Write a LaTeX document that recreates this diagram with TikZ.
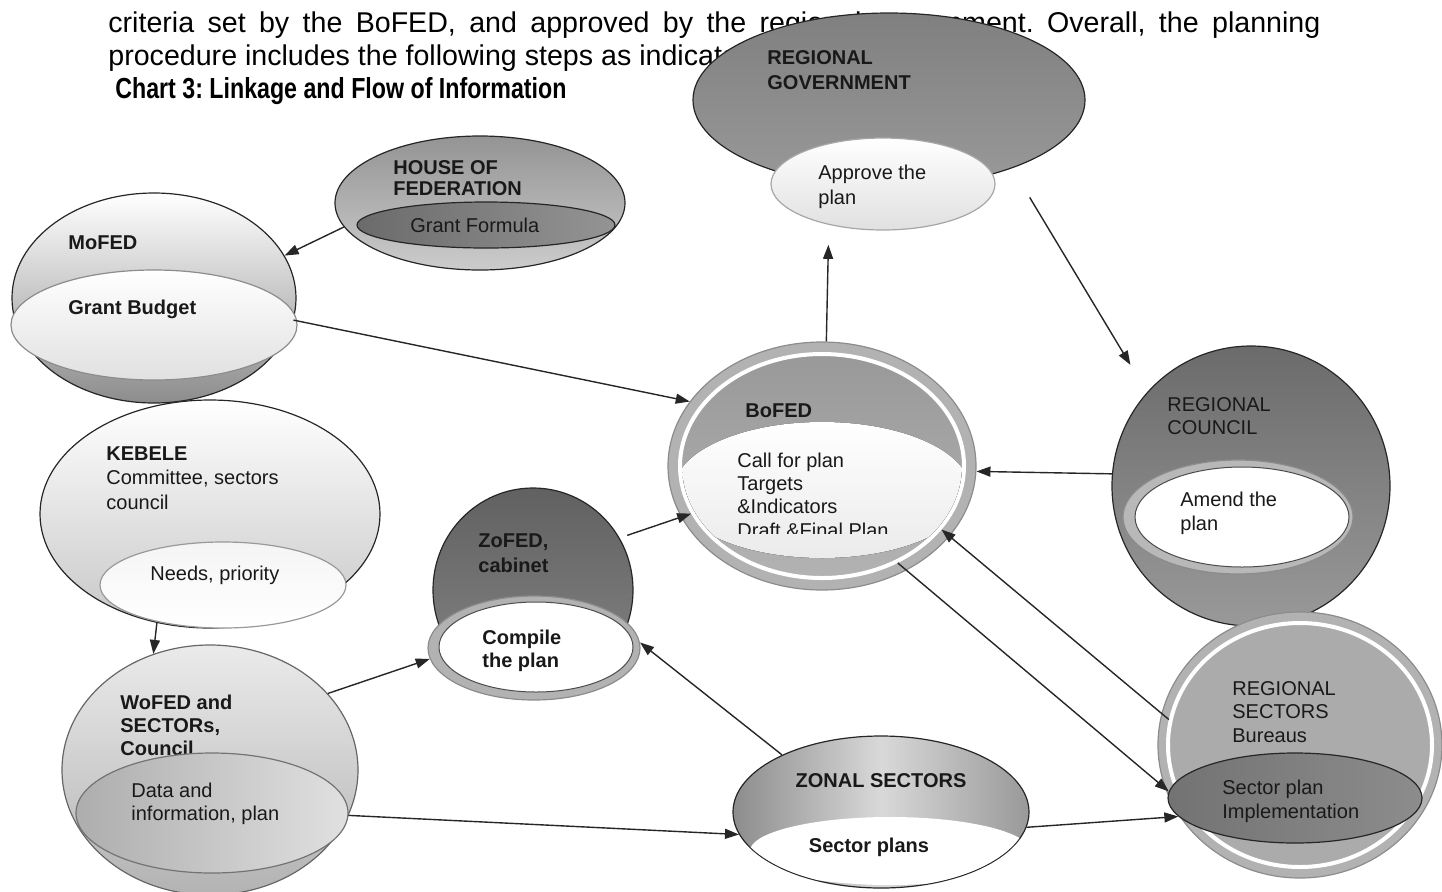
\documentclass[tikz,border=0pt]{standalone}
\usepackage{fontspec}
\setmainfont{Liberation Sans}
\newfontfamily\narrowfont{Liberation Sans}[FakeStretch=0.8]
\usepackage{tikz}
\usetikzlibrary{arrows.meta, positioning, shapes.geometric}
\frenchspacing

\begin{document}
\begin{tikzpicture}[
    x=0.5pt, y=-0.5pt,
    blob/.style={ellipse, inner sep=0pt, draw=black!85, line width=0.6pt},
    core/.style={ellipse, inner sep=0pt, draw=white, line width=2pt},
    txt/.style={inner sep=0pt, anchor=base west, align=left, text=black!90, font=\fontsize{10}{12}\selectfont},
    arrow/.style={line width=0.7pt, -{Triangle[length=7pt, width=5pt]}, draw=black!85}
]
    \useasboundingbox (0,0) rectangle (1442,891);

    % text above the chart
    \node[anchor=base west, inner sep=0pt, text width=606pt, align=justify, font=\fontsize{14.3}{16.5}\selectfont] (intro) at (108,32)
        {criteria set by the BoFED, and approved by the regional government. Overall, the planning\linebreak procedure includes the following steps as indicated below:};
    \node[anchor=base west, inner sep=0pt, font=\narrowfont\bfseries\fontsize{14.5}{16}\selectfont] (title) at (115,98) {Chart 3: Linkage and Flow of Information};

    % house of federation
    \node[blob, minimum width=145pt, minimum height=67pt, top color=black!42, bottom color=black!20] (hof) at (480,203) {};
    \node[txt, font=\bfseries\fontsize{10}{10.5}\selectfont] (hoftxt) at (393,195) {HOUSE OF\\FEDERATION};
    \node[blob, minimum width=129pt, minimum height=23pt, left color=black!58, right color=black!42] (hofin) at (486,225) {};
    \node[txt] (hofintxt) at (410,232) {Grant Formula};

    % mofed
    \node[blob, minimum width=142pt, minimum height=105pt, top color=white, middle color=white, bottom color=black!45] (mofed) at (154,298) {};
    \node[blob, draw=black!45, minimum width=143pt, minimum height=55pt, top color=white, bottom color=black!12] (mofedin) at (154,325) {};
    \node[txt, font=\bfseries\fontsize{10}{12}\selectfont] (mofedtxt) at (68,249) {MoFED};
    \node[txt, font=\bfseries\fontsize{10}{12}\selectfont] (mofedintxt) at (68,314) {Grant Budget};

    % kebele
    \node[blob, minimum width=170pt, minimum height=114pt, top color=white, bottom color=black!22] (kebele) at (210,514) {};
    \node[blob, draw=black!40, minimum width=123pt, minimum height=43pt, top color=black!4, bottom color=white] (kebelein) at (223,585) {};
    \node[txt, font=\fontsize{10}{12.25}\selectfont] (kebeletxt) at (106,509) {\textbf{KEBELE}\\Committee, sectors\\council};
    \node[txt] (kebeleintxt) at (150,580) {Needs, priority};

    % wofed
    \node[blob, draw=black!60, minimum width=148pt, minimum height=125pt, top color=black!8, bottom color=black!30] (wofed) at (210,770) {};
    \node[txt, font=\bfseries\fontsize{10}{11.5}\selectfont] (wofedtxt) at (120,755) {WoFED and\\SECTORs,\\Council};
    \node[blob, draw=black!55, minimum width=136pt, minimum height=60pt, left color=black!32, right color=black!12] (wofedin) at (212,813) {};
    \node[txt, font=\fontsize{10}{11.5}\selectfont] (wofedintxt) at (131,820) {Data and\\information, plan};

    % zofed
    \node[blob, minimum width=100pt, minimum height=102pt, top color=black!62, bottom color=black!48] (zofed) at (533,590) {};
    \node[txt, font=\bfseries\fontsize{10}{12.5}\selectfont] (zofedtxt) at (478,572) {ZoFED,\\cabinet};
    \node[blob, draw=black!45, fill=black!30, minimum width=106pt, minimum height=52pt] (zofedin) at (534,648) {};
    \node[blob, draw=black!70, line width=0.5pt, fill=white, minimum width=97pt, minimum height=45pt] (zofedcore) at (536,647) {};
    \node[txt, font=\bfseries\fontsize{10}{11.5}\selectfont] (zofedintxt) at (482,667) {Compile\\the plan};

    % bofed
    \node[blob, draw=black!45, fill=black!30, minimum width=154pt, minimum height=124pt] (bofed) at (822,466) {};
    \node[core, top color=black!40, bottom color=black!30, minimum width=142pt, minimum height=112pt] (bofedcore) at (822,466) {};
    \begin{scope}
        \clip (822,466) ellipse [x radius=70pt, y radius=55pt];
        \fill[top color=white, bottom color=black!8] (822,490) ellipse [x radius=74pt, y radius=34pt];
    \end{scope}
    \node[txt, font=\bfseries\fontsize{10}{12}\selectfont] (bofedtxt) at (745,417) {BoFED};
    \begin{scope}
        \clip (700,440) rectangle (960,533);
        \node[txt, font=\fontsize{10}{11.65}\selectfont] (bofedlist) at (737,537) {Call for plan\\Targets\\\&Indicators\\Draft \&Final Plan};
    \end{scope}

    % regional government
    \node[blob, top color=black!50, bottom color=black!40, minimum width=196pt, minimum height=87pt] (reggov) at (889,100) {};
    \node[txt, font=\bfseries\fontsize{10}{12.5}\selectfont] (reggovtxt) at (767,89) {REGIONAL\\GOVERNMENT};
    \node[blob, draw=black!35, top color=white, bottom color=black!12, minimum width=112pt, minimum height=46pt] (reggovin) at (883,184) {};
    \node[txt, font=\fontsize{10}{12.5}\selectfont] (reggovintxt) at (818,204) {Approve the\\plan};

    % regional council
    \node[blob, top color=black!58, bottom color=black!40, minimum width=139pt, minimum height=140pt] (council) at (1251,486) {};
    \node[txt, font=\fontsize{10}{11.5}\selectfont] (counciltxt) at (1167,434) {REGIONAL\\COUNCIL};
    \node[blob, draw=black!45, fill=black!28, minimum width=115pt, minimum height=57pt] (councilin) at (1238,517) {};
    \node[blob, draw=black!70, line width=0.5pt, fill=white, minimum width=107pt, minimum height=50pt] (councilcore) at (1242,517) {};
    \node[txt, font=\fontsize{10}{12}\selectfont] (councilintxt) at (1180,530) {Amend the\\plan};

    % regional sectors
    \node[blob, draw=black!45, fill=black!30, minimum width=142pt, minimum height=133pt] (regsect) at (1300,745) {};
    \node[core, fill=black!33, minimum width=132pt, minimum height=122pt] (regsectcore) at (1300,745) {};
    \node[txt, font=\fontsize{10}{11.75}\selectfont] (regsecttxt) at (1232,742) {REGIONAL\\SECTORS\\Bureaus};
    \node[blob, left color=black!55, right color=black!45, minimum width=127pt, minimum height=45pt] (regsectin) at (1295,798) {};
    \node[txt, font=\fontsize{10}{11.75}\selectfont] (regsectintxt) at (1222,818) {Sector plan\\Implementation};

    % zonal sectors
    \node[blob, left color=black!45, right color=black!40, middle color=black!15, minimum width=148pt, minimum height=76pt] (zonal) at (881,812) {};
    \begin{scope}
        \clip (881,812) ellipse [x radius=73.7pt, y radius=37.7pt];
        \fill[white] (890,851) ellipse [x radius=70pt, y radius=17pt];
    \end{scope}
    \node[txt, anchor=base, font=\bfseries\fontsize{10}{12}\selectfont] (zonaltxt) at (881,787) {ZONAL SECTORS};
    \node[txt, anchor=base, font=\bfseries\fontsize{10}{12}\selectfont] (zonalintxt) at (869,852) {Sector plans};

    % flow of information
    \draw[arrow] (hof.190) -- (mofed.18);
    \draw[arrow] (mofed.-9) -- (bofed.154);
    \draw[arrow, shorten >=10pt] (bofed.88) -- (reggovin.217);
    \draw[arrow, shorten <=17pt, shorten >=16pt] (reggov.-29) -- (council.138);
    \draw[arrow] (council.175) -- (bofed.-2);
    \draw[arrow] (kebele.244) -- (wofed.116);
    \draw[arrow] (wofed.33) -- (zofedin.186);
    \draw[arrow, shorten <=4pt] (zofed.31) -- (bofedcore.200);
    \draw[arrow] (wofedin.-1) -- (zonal.189);
    \draw[arrow] (zonal.150) -- (zofedin.3);
    \draw[arrow] (zonal.-6) -- (regsectin.189);
    \draw[arrow] (regsectcore.169) -- (bofedcore.-28);
    \draw[arrow] (bofedcore.-52) -- (regsectin.177);
\end{tikzpicture}
\end{document}
